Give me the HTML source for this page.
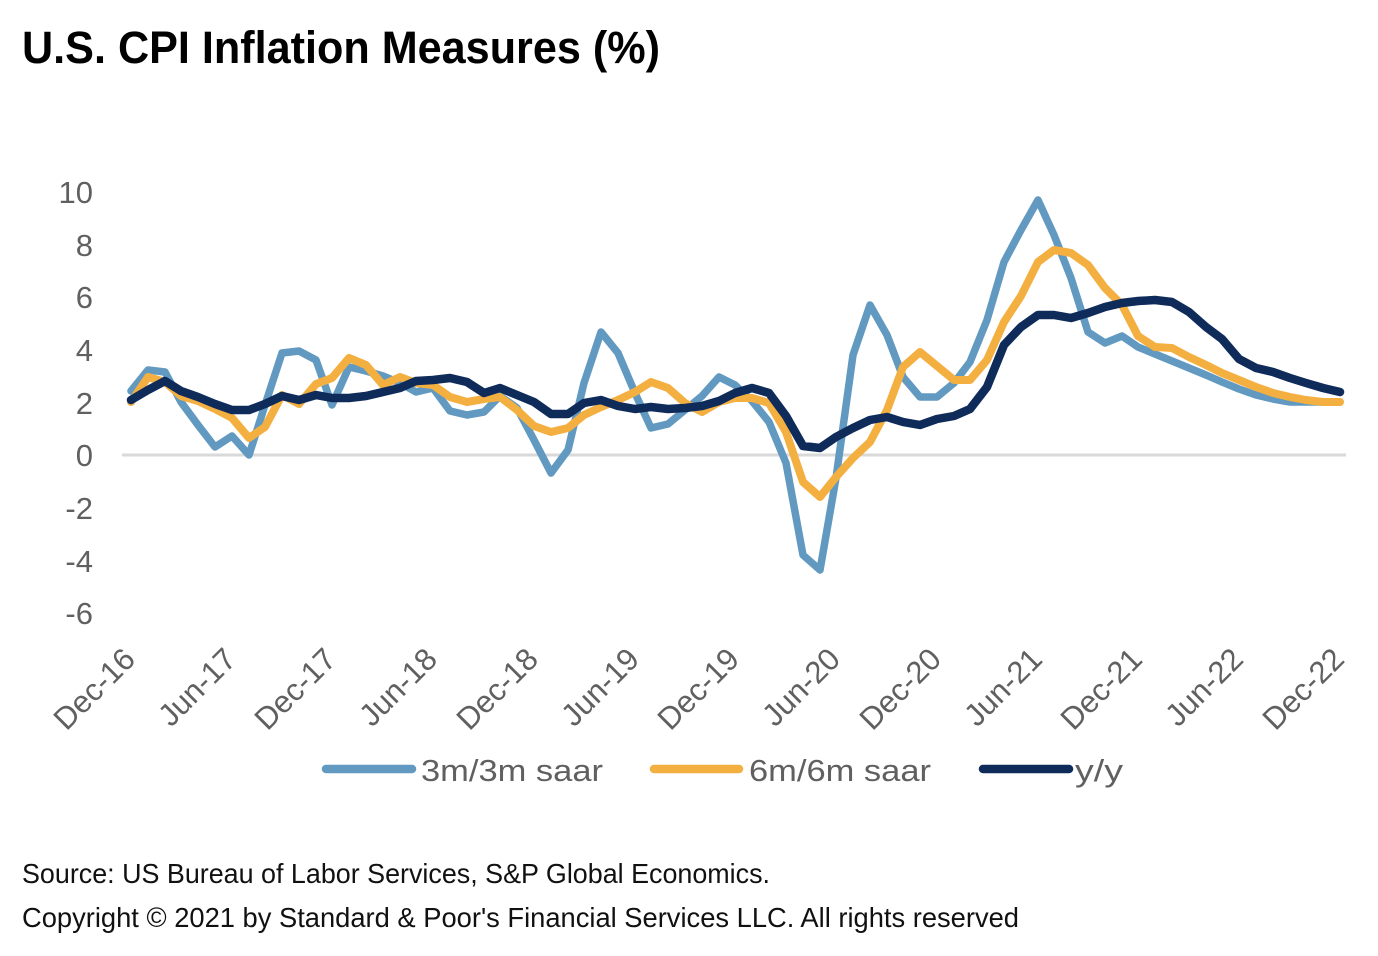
<!DOCTYPE html>
<html>
<head>
<meta charset="utf-8">
<style>
  html, body { margin: 0; padding: 0; background: #ffffff; }
  svg { display: block; }
  .ax { font-family: "Liberation Sans", sans-serif; font-size: 31px; fill: #606060; }
  .ft { font-family: "Liberation Sans", sans-serif; font-size: 28px; fill: #111111; }
</style>
</head>
<body>
<svg width="1378" height="956" viewBox="0 0 1378 956" xmlns="http://www.w3.org/2000/svg">
  <rect width="1378" height="956" fill="#ffffff"/>

  <!-- Title -->
  <text x="22" y="63" font-family="Liberation Sans, sans-serif" font-weight="bold" font-size="45" fill="#000" textLength="638" lengthAdjust="spacingAndGlyphs">U.S. CPI Inflation Measures (%)</text>

  <!-- Y axis labels -->
  <g class="ax" text-anchor="end">
    <text x="93" y="203">10</text>
    <text x="93" y="256">8</text>
    <text x="93" y="308">6</text>
    <text x="93" y="361">4</text>
    <text x="93" y="414">2</text>
    <text x="93" y="466">0</text>
    <text x="93" y="519">-2</text>
    <text x="93" y="572">-4</text>
    <text x="93" y="624">-6</text>
  </g>

  <!-- Zero line -->
  <line x1="122" y1="455" x2="1346" y2="455" stroke="#d9d9d9" stroke-width="3"/>

  <!-- Series -->
  <g fill="none" stroke-linejoin="round" stroke-linecap="round">
    <polyline stroke="#6199c0" stroke-width="7.5" points="
      131,391 148,370 165,372 181,402 198,425 215,447 232,436 249,455 265,405 282,353
      299,351 316,360 332,405 349,367 366,371 383,376 400,383 416,392 433,388 450,411
      467,415 484,412 500,396 517,408 534,440 551,473 568,450 584,383 601,332 618,353
      635,393 651,428 668,424 685,410 702,396 719,377 735,385 752,401 769,422 786,463
      803,555 820,570 836,478 853,355 870,305 887,335 903,377 920,397 937,397 954,383
      970,362 987,320 1004,262 1021,230 1038,200 1054,235 1071,278 1088,332 1105,343 1122,336
      1138,347 1155,354 1172,361 1189,368 1206,375 1222,382 1239,389 1256,395 1273,399 1290,402
      1306,402 1323,402 1340,402"/>
    <polyline stroke="#f4af41" stroke-width="8" points="
      131,402 148,377 165,382 181,396 198,401 215,409 232,418 249,438 265,427 282,395
      299,404 316,384 332,378 349,358 366,365 383,385 400,377 416,383 433,385 450,397
      467,402 484,399 500,397 517,410 534,426 551,432 568,428 584,415 601,407 618,400
      635,392 651,382 668,388 685,403 702,412 719,402 735,398 752,398 769,403 786,432
      803,482 820,497 836,477 853,458 870,442 887,410 903,367 920,352 937,366 954,380
      970,380 987,360 1004,322 1021,296 1038,262 1054,250 1071,253 1088,265 1105,288 1122,305
      1138,336 1155,347 1172,348 1189,357 1206,365 1222,373 1239,380 1256,387 1273,393 1290,397
      1306,400 1323,402 1340,402"/>
    <polyline stroke="#0e2b5a" stroke-width="8.5" points="
      131,400 148,390 165,381 181,391 198,397 215,404 232,410 249,410 265,404 282,396
      299,400 316,395 332,398 349,398 366,396 383,392 400,388 416,381 433,380 450,378
      467,382 484,393 500,388 517,395 534,402 551,414 568,414 584,403 601,400 618,406
      635,409 651,407 668,409 685,408 702,406 719,401 735,393 752,388 769,393 786,416
      803,446 820,448 836,437 853,428 870,420 887,417 903,422 920,425 937,419 954,416
      970,409 987,387 1004,345 1021,327 1038,315 1054,315 1071,318 1088,313 1105,307 1122,303
      1138,301 1155,300 1172,302 1189,312 1206,327 1222,339 1239,359 1256,368 1273,372 1290,378
      1306,383 1323,388 1340,392"/>
  </g>

  <!-- X axis labels (rotated -45) -->
  <g class="ax" text-anchor="end" font-size="32">
    <text transform="translate(137,661) rotate(-45)">Dec-16</text>
    <text transform="translate(238,661) rotate(-45)">Jun-17</text>
    <text transform="translate(338,661) rotate(-45)">Dec-17</text>
    <text transform="translate(439,661) rotate(-45)">Jun-18</text>
    <text transform="translate(540,661) rotate(-45)">Dec-18</text>
    <text transform="translate(641,661) rotate(-45)">Jun-19</text>
    <text transform="translate(741,661) rotate(-45)">Dec-19</text>
    <text transform="translate(842,661) rotate(-45)">Jun-20</text>
    <text transform="translate(943,661) rotate(-45)">Dec-20</text>
    <text transform="translate(1044,661) rotate(-45)">Jun-21</text>
    <text transform="translate(1144,661) rotate(-45)">Dec-21</text>
    <text transform="translate(1245,661) rotate(-45)">Jun-22</text>
    <text transform="translate(1346,661) rotate(-45)">Dec-22</text>
  </g>

  <!-- Legend -->
  <g stroke-linecap="round" stroke-width="8.5">
    <line x1="326" y1="769" x2="412" y2="769" stroke="#6199c0"/>
    <line x1="654" y1="769" x2="739" y2="769" stroke="#f4af41"/>
    <line x1="983" y1="769" x2="1069" y2="769" stroke="#0e2b5a"/>
  </g>
  <g class="ax">
    <text x="421" y="781" textLength="182" lengthAdjust="spacingAndGlyphs">3m/3m saar</text>
    <text x="749" y="781" textLength="182" lengthAdjust="spacingAndGlyphs">6m/6m saar</text>
    <text x="1075" y="781" textLength="48" lengthAdjust="spacingAndGlyphs">y/y</text>
  </g>

  <!-- Footer -->
  <text class="ft" x="22" y="883" textLength="748" lengthAdjust="spacingAndGlyphs">Source: US Bureau of Labor Services, S&amp;P Global Economics.</text>
  <text class="ft" x="22" y="927" textLength="997" lengthAdjust="spacingAndGlyphs">Copyright © 2021 by Standard &amp; Poor's Financial Services LLC. All rights reserved</text>
</svg>
</body>
</html>
